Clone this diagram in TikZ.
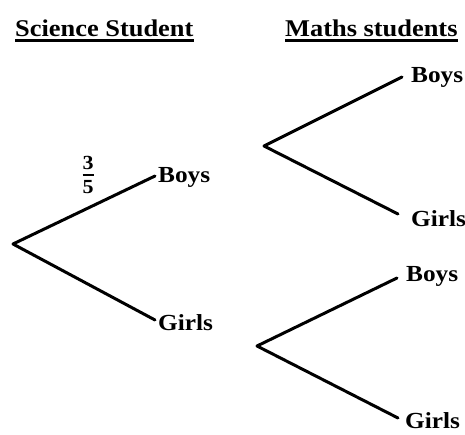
\documentclass[tikz,border=0pt]{standalone}
\usepackage{fontspec}
\newfontfamily\labfont[FakeStretch=1.1]{Liberation Serif}
\setlength{\arrayrulewidth}{1.8pt}
\begin{document}
\begin{tikzpicture}[x=1pt,y=-1pt,
  branch/.style={line width=3pt,line cap=round,line join=round},
  lbl/.style={anchor=base west,inner sep=0pt,font=\labfont\bfseries\fontsize{23}{25}\selectfont},
  head/.style={anchor=base west,inner sep=0pt,font=\labfont\bfseries\fontsize{24}{26}\selectfont},
  ul/.style={line width=2.2pt},
  frac/.style={inner sep=0pt,font=\labfont\bfseries\fontsize{20}{22}\selectfont}]
\useasboundingbox (0,0) rectangle (465,435);
% headings
\node[head] (h1) at (15,37) {Science Student};
\node[head] (h2) at (285,37) {Maths students};
\draw[ul] ([yshift=-3.5pt]h1.base west) -- ([yshift=-3.5pt]h1.base east);
\draw[ul] ([yshift=-3.5pt]h2.base west) -- ([yshift=-3.5pt]h2.base east);
% tree 1
\coordinate (r1) at (13,244);
\coordinate (b1) at (155,176);
\coordinate (g1) at (155,320);
\draw[branch] (b1) -- (r1) -- (g1);
\node[lbl] (B1) at (158,183) {Boys};
\node[lbl] (G1) at (158,330) {Girls};
\node[frac] (f1) at (88,177) {\begin{tabular}{@{}c@{}}3\\[-2pt]\hline\rule{0pt}{18pt}5\end{tabular}};
% tree 2
\coordinate (r2) at (264,146);
\coordinate (b2) at (402,77);
\coordinate (g2) at (398,214);
\draw[branch] (b2) -- (r2) -- (g2);
\node[lbl] (B2) at (411,83) {Boys};
\node[lbl] (G2) at (411,227) {Girls};
% tree 3
\coordinate (r3) at (257,346);
\coordinate (b3) at (397,278);
\coordinate (g3) at (398,418);
\draw[branch] (b3) -- (r3) -- (g3);
\node[lbl] (B3) at (406,281) {Boys};
\node[lbl] (G3) at (405,428) {Girls};
\end{tikzpicture}
\end{document}
